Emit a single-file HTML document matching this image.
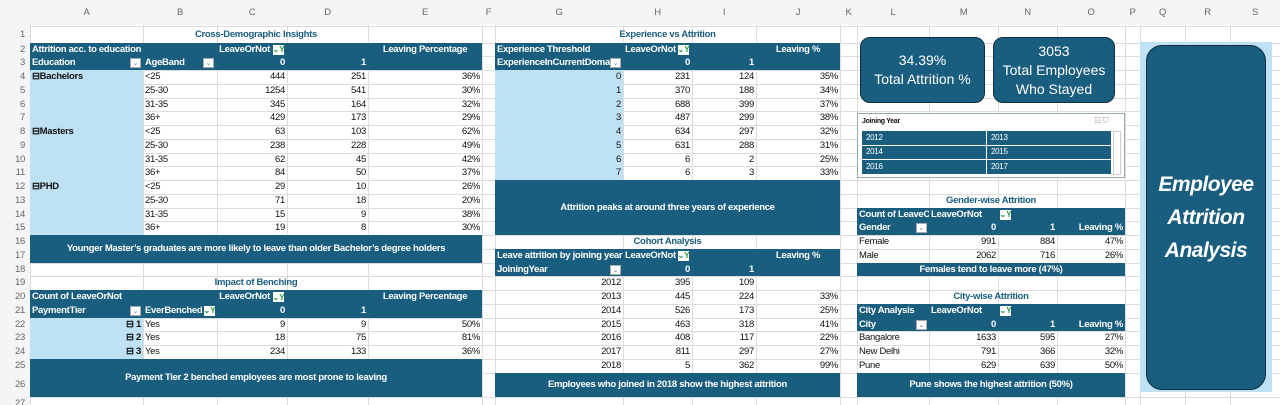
<!DOCTYPE html>
<html><head><meta charset="utf-8">
<style>
html,body{margin:0;padding:0;width:1280px;height:405px;overflow:hidden;background:#fff;font-family:"Liberation Sans",sans-serif;}
#sheet{position:relative;width:1280px;height:405px;}
.c{position:absolute;box-sizing:border-box;font-size:9.5px;line-height:1;display:flex;align-items:center;white-space:nowrap;overflow:hidden;color:#111;padding:0 2px;letter-spacing:-0.3px}
.g{position:absolute;background:#dcdcdc}
.dk{background:#1a5e7f;color:#fff;font-weight:bold}
.lb{background:#bfe1f4}
.r{justify-content:flex-end}
.m{justify-content:center}
.t{color:#1a5e7f;font-weight:bold;justify-content:center}
.pr{padding-right:17px}
.dd{position:absolute;width:11px;height:10px;background:#fff;border:1px solid #aaa;box-sizing:border-box;color:#777;font-size:7px;display:flex;align-items:center;justify-content:center}
.ft{position:absolute;width:11px;height:10px;background:#fff;color:#2a9a3a;font-size:8px;display:flex;align-items:center;justify-content:center;font-weight:bold}
</style></head><body>
<div id="sheet"></div>
<script>
const colEdges=[30,143,217,287,368,482,495,623,692,756,840,857,929,998,1057,1125,1140,1185,1230,1280];
const colLetters=["A","B","C","D","E","F","G","H","I","J","K","L","M","N","O","P","Q","R","S"];
const eduGroups=["Bachelors","","","","Masters","","","","PHD","","",""];
const ageBands=["<25","25-30","31-35","36+","<25","25-30","31-35","36+","<25","25-30","31-35","36+"];
const eduStay=[444,1254,345,429,63,238,62,84,29,71,15,19];
const eduLeave=[251,541,164,173,103,228,45,50,10,18,9,8];
const eduPct=["36%","30%","32%","29%","62%","49%","42%","37%","26%","20%","38%","30%"];
const tiers=[1,2,3];
const benchStay=[9,18,234];
const benchLeave=[9,75,133];
const benchPct=["50%","81%","36%"];
const expYears=[0,1,2,3,4,5,6,7];
const expStay=[231,370,688,487,634,631,6,6];
const expLeave=[124,188,399,299,297,288,2,3];
const expPct=["35%","34%","37%","38%","32%","31%","25%","33%"];
const joinYears=[2012,2013,2014,2015,2016,2017,2018];
const joinStay=[395,445,526,463,408,811,5];
const joinLeave=[109,224,173,318,117,297,362];
const joinPct=["","33%","25%","41%","22%","27%","99%"];
const genders=["Female","Male"];
const genStay=[991,2062];
const genLeave=[884,716];
const genPct=["47%","26%"];
const cities=["Bangalore","New Delhi","Pune"];
const cityStay=[1633,791,629];
const cityLeave=[595,366,639];
const cityPct=["27%","32%","50%"];
const slicerYears=["2012","2013","2014","2015","2016","2017"];

const S=document.getElementById('sheet');
function rt(n){if(n<=1)return 26;if(n<=26)return 42.5+(n-2)*13.75;return 397+(n-27)*13.75;}
function rh(n){return rt(n+1)-rt(n);}
function cx(i){return colEdges[i];}
function mk(x,y,w,h,txt,cls,name,inter){
  const e=document.createElement('div');
  e.className='c '+(cls||'');
  e.style.left=x+'px';e.style.top=y+'px';e.style.width=w+'px';e.style.height=h+'px';
  if(txt!==undefined&&txt!==null)e.textContent=txt;
  
  
  S.appendChild(e);return e;
}
function cell(c1,c2,r1,r2,txt,cls,name){return mk(cx(c1),rt(r1),cx(c2)-cx(c1),rt(r2+1)-rt(r1),txt,cls,name,false);}
function icon(cls,x,y,txt,name){
  const e=document.createElement('div');e.className=cls;e.style.left=x+'px';e.style.top=y+'px';e.textContent=txt;
  
  
  S.appendChild(e);
}
for(let i=0;i<colEdges.length;i++){const g=document.createElement('div');g.className='g';g.style.left=colEdges[i]+'px';g.style.top='0px';g.style.width='1px';g.style.height='405px';


S.appendChild(g);}
for(let n=1;n<=28;n++){const g=document.createElement('div');g.className='g';g.style.left='0px';g.style.top=rt(n)+'px';g.style.width='1280px';g.style.height='1px';


S.appendChild(g);}
mk(0,0,1280,25,'','','column-header-bar',false).style.background='#f5f5f5';
mk(0,25,30,380,'','','row-header-bar',false).style.background='#f5f5f5';
for(let i=0;i<colLetters.length;i++){mk(cx(i),4,cx(i+1)-cx(i),18,colLetters[i],'m','column-letter',true).style.color='#666';}
for(let n=1;n<=27;n++){const e=mk(0,rt(n),27,rh(n),String(n),'r','row-number',true);e.style.color='#666';}

// Education
cell(0,5,1,1,'Cross-Demographic Insights','t','education-title');
cell(0,5,2,3,'','dk','education-header-bg');
cell(0,2,2,2,'Attrition acc. to education','dk','education-table-label');
cell(2,3,2,2,'LeaveOrNot','dk r pr','leave-or-not-header');
cell(4,5,2,2,'Leaving Percentage','dk m','leaving-percentage-header');
cell(0,1,3,3,'Education','dk','education-header');
cell(1,2,3,3,'AgeBand','dk','ageband-header');
cell(2,3,3,3,'0','dk r','stay-col-header');
cell(3,4,3,3,'1','dk r','leave-col-header');
icon('ft',cx(3)-14,rt(2)+2,'⌄Y','leave-filter-button');
icon('dd',cx(1)-13,rt(3)+2,'⌄','education-dropdown');
icon('dd',cx(2)-14,rt(3)+2,'⌄','ageband-dropdown');
cell(0,1,4,15,'','lb','education-row-labels');
for(let i=0;i<ageBands.length;i++){
  const r=4+i;
  if(eduGroups[i]){const e=cell(0,1,r,r,'⊟'+eduGroups[i],'','education-group');e.style.fontWeight='bold';}
  cell(1,2,r,r,ageBands[i],'','ageband-cell');
  cell(2,3,r,r,eduStay[i],'r','stay-count');
  cell(3,4,r,r,eduLeave[i],'r','leave-count');
  cell(4,5,r,r,eduPct[i],'r','leaving-percent');
}
cell(0,5,16,17,"Younger Master’s graduates are more likely to leave than older Bachelor’s degree holders",'dk m','education-insight');

// Benching
cell(0,5,19,19,'Impact of Benching','t','benching-title');
cell(0,5,20,21,'','dk','benching-header-bg');
cell(0,2,20,20,'Count of LeaveOrNot','dk','benching-table-label');
cell(2,3,20,20,'LeaveOrNot','dk r pr','benching-leave-header');
cell(4,5,20,20,'Leaving Percentage','dk m','benching-pct-header');
cell(0,1,21,21,'PaymentTier','dk','paymenttier-header');
cell(1,2,21,21,'EverBenched','dk','everbenched-header');
cell(2,3,21,21,'0','dk r','benching-stay-header');
cell(3,4,21,21,'1','dk r','benching-leave-col');
icon('ft',cx(3)-14,rt(20)+2,'⌄Y','benching-leave-filter');
icon('dd',cx(1)-13,rt(21)+2,'⌄','paymenttier-dropdown');
icon('ft',cx(2)-13,rt(21)+2,'⌄Y','everbenched-filter');
cell(0,1,22,24,'','lb','benching-row-labels');
for(let i=0;i<tiers.length;i++){
  const r=22+i;
  const e=cell(0,1,r,r,'⊟ '+tiers[i],'r','payment-tier');e.style.fontWeight='bold';
  cell(1,2,r,r,'Yes','','everbenched-yes');
  cell(2,3,r,r,benchStay[i],'r','benching-stay-count');
  cell(3,4,r,r,benchLeave[i],'r','benching-leave-count');
  cell(4,5,r,r,benchPct[i],'r','benching-percent');
}
cell(0,5,25,26,'Payment Tier 2 benched employees are most prone to leaving','dk m','benching-insight');

// Experience
cell(6,10,1,1,'Experience vs Attrition','t','experience-title');
cell(6,10,2,3,'','dk','experience-header-bg');
cell(6,7,2,2,'Experience Threshold','dk','experience-table-label');
cell(7,8,2,2,'LeaveOrNot','dk','experience-leave-header');
cell(9,10,2,2,'Leaving %','dk m','experience-pct-header');
cell(6,7,3,3,'ExperienceInCurrentDomain','dk','experience-domain-header');
cell(7,8,3,3,'0','dk r','experience-stay-header');
cell(8,9,3,3,'1','dk r','experience-leave-col');
icon('ft',cx(8)-14,rt(2)+2,'⌄Y','experience-leave-filter');
icon('dd',cx(7)-13,rt(3)+2,'⌄','experience-dropdown');
cell(6,7,4,11,'','lb','experience-row-labels');
for(let i=0;i<expYears.length;i++){
  const r=4+i;
  cell(6,7,r,r,expYears[i],'r','experience-years');
  cell(7,8,r,r,expStay[i],'r','experience-stay-count');
  cell(8,9,r,r,expLeave[i],'r','experience-leave-count');
  cell(9,10,r,r,expPct[i],'r','experience-percent');
}
cell(6,10,12,15,'Attrition peaks at around three years of experience','dk m','experience-insight');

// Cohort
cell(6,10,16,16,'Cohort Analysis','t','cohort-title');
cell(6,10,17,18,'','dk','cohort-header-bg');
cell(6,7,17,17,'Leave attrition by joining year','dk','cohort-table-label');
cell(7,8,17,17,'LeaveOrNot','dk','cohort-leave-header');
cell(9,10,17,17,'Leaving %','dk m','cohort-pct-header');
cell(6,7,18,18,'JoiningYear','dk','joiningyear-header');
cell(7,8,18,18,'0','dk r','cohort-stay-header');
cell(8,9,18,18,'1','dk r','cohort-leave-col');
icon('ft',cx(8)-14,rt(17)+2,'⌄Y','cohort-leave-filter');
icon('dd',cx(7)-13,rt(18)+2,'⌄','joiningyear-dropdown');
for(let i=0;i<joinYears.length;i++){
  const r=19+i;
  cell(6,7,r,r,joinYears[i],'r','joining-year');
  cell(7,8,r,r,joinStay[i],'r','cohort-stay-count');
  cell(8,9,r,r,joinLeave[i],'r','cohort-leave-count');
  cell(9,10,r,r,joinPct[i],'r','cohort-percent');
}
cell(6,10,26,26,'Employees who joined in 2018 show the highest attrition','dk m','cohort-insight');

// KPI cards
function kpi(x,w,html,name){
  const e=mk(x,37,w,66,'','dk m',name,false);
  e.style.borderRadius='10px';e.style.border='1.5px solid #0f2f40';e.style.fontWeight='normal';
  e.style.fontSize='14px';e.style.lineHeight='19px';e.style.textAlign='center';e.style.whiteSpace='normal';e.style.letterSpacing='0';
  e.innerHTML=html;
}
kpi(860,125,'<div>34.39%<br>Total Attrition %</div>','total-attrition-card');
kpi(993,122,'<div>3053<br>Total Employees<br>Who Stayed</div>','employees-stayed-card');

// Slicer
const sl=mk(857,113,268,65,'','','joining-year-slicer',false);
sl.style.border='1px solid #9aa';sl.style.background='#fff';
const stt=mk(860,115,120,12,'Joining Year','','slicer-title',false);stt.style.fontSize='7px';stt.style.fontWeight='bold';
mk(1092,115,28,12,'☷ ⛉','','slicer-clear-filter',true).style.cssText+='font-size:8px;color:#999;';
for(let i=0;i<slicerYears.length;i++){
  const col=i%2,row=Math.floor(i/2);
  const e=mk(862+col*125,131+row*14.5,124,13.5,slicerYears[i],'dk','slicer-year-button',true);
  e.style.fontWeight='normal';e.style.fontSize='8px';e.style.paddingLeft='4px';
}
const sb=mk(1113,131,8,44,'','','slicer-scrollbar',true);sb.style.border='1px solid #ccc';sb.style.background='#fff';

// Gender
cell(11,15,13,13,'Gender-wise Attrition','t','gender-title');
cell(11,15,14,15,'','dk','gender-header-bg');
cell(11,12,14,14,'Count of LeaveOr','dk','gender-table-label');
cell(12,13,14,14,'LeaveOrNot','dk','gender-leave-header');
cell(11,12,15,15,'Gender','dk','gender-header');
cell(12,13,15,15,'0','dk r','gender-stay-header');
cell(13,14,15,15,'1','dk r','gender-leave-col');
cell(14,15,15,15,'Leaving %','dk r','gender-pct-header');
icon('ft',cx(13)+2,rt(14)+2,'⌄Y','gender-leave-filter');
icon('dd',cx(12)-13,rt(15)+2,'⌄','gender-dropdown');
for(let i=0;i<genders.length;i++){
  const r=16+i;
  cell(11,12,r,r,genders[i],'','gender-label');
  cell(12,13,r,r,genStay[i],'r','gender-stay-count');
  cell(13,14,r,r,genLeave[i],'r','gender-leave-count');
  cell(14,15,r,r,genPct[i],'r','gender-percent');
}
cell(11,15,18,18,'Females tend to leave more (47%)','dk m','gender-insight');

// City
cell(11,15,20,20,'City-wise Attrition','t','city-title');
cell(11,15,21,22,'','dk','city-header-bg');
cell(11,12,21,21,'City Analysis','dk','city-table-label');
cell(12,13,21,21,'LeaveOrNot','dk','city-leave-header');
cell(11,12,22,22,'City','dk','city-header');
cell(12,13,22,22,'0','dk r','city-stay-header');
cell(13,14,22,22,'1','dk r','city-leave-col');
cell(14,15,22,22,'Leaving %','dk r','city-pct-header');
icon('ft',cx(13)+2,rt(21)+2,'⌄Y','city-leave-filter');
icon('dd',cx(12)-13,rt(22)+2,'⌄','city-dropdown');
for(let i=0;i<cities.length;i++){
  const r=23+i;
  cell(11,12,r,r,cities[i],'','city-label');
  cell(12,13,r,r,cityStay[i],'r','city-stay-count');
  cell(13,14,r,r,cityLeave[i],'r','city-leave-count');
  cell(14,15,r,r,cityPct[i],'r','city-percent');
}
cell(11,15,26,26,'Pune shows the highest attrition (50%)','dk m','city-insight');

// Title panel
const p=mk(1140,42,132,350,'','lb','title-panel',false);
const tb=mk(1146,45,120,345,'','dk m','title-box',false);
tb.style.borderRadius='16px';tb.style.border='1.5px solid #0f2f40';tb.style.whiteSpace='normal';tb.style.textAlign='center';
tb.style.fontStyle='italic';tb.style.fontSize='21px';tb.style.lineHeight='33px';tb.style.letterSpacing='-0.5px';
tb.innerHTML='<div>Employee<br>Attrition<br>Analysis</div>';
</script>
</body></html>
